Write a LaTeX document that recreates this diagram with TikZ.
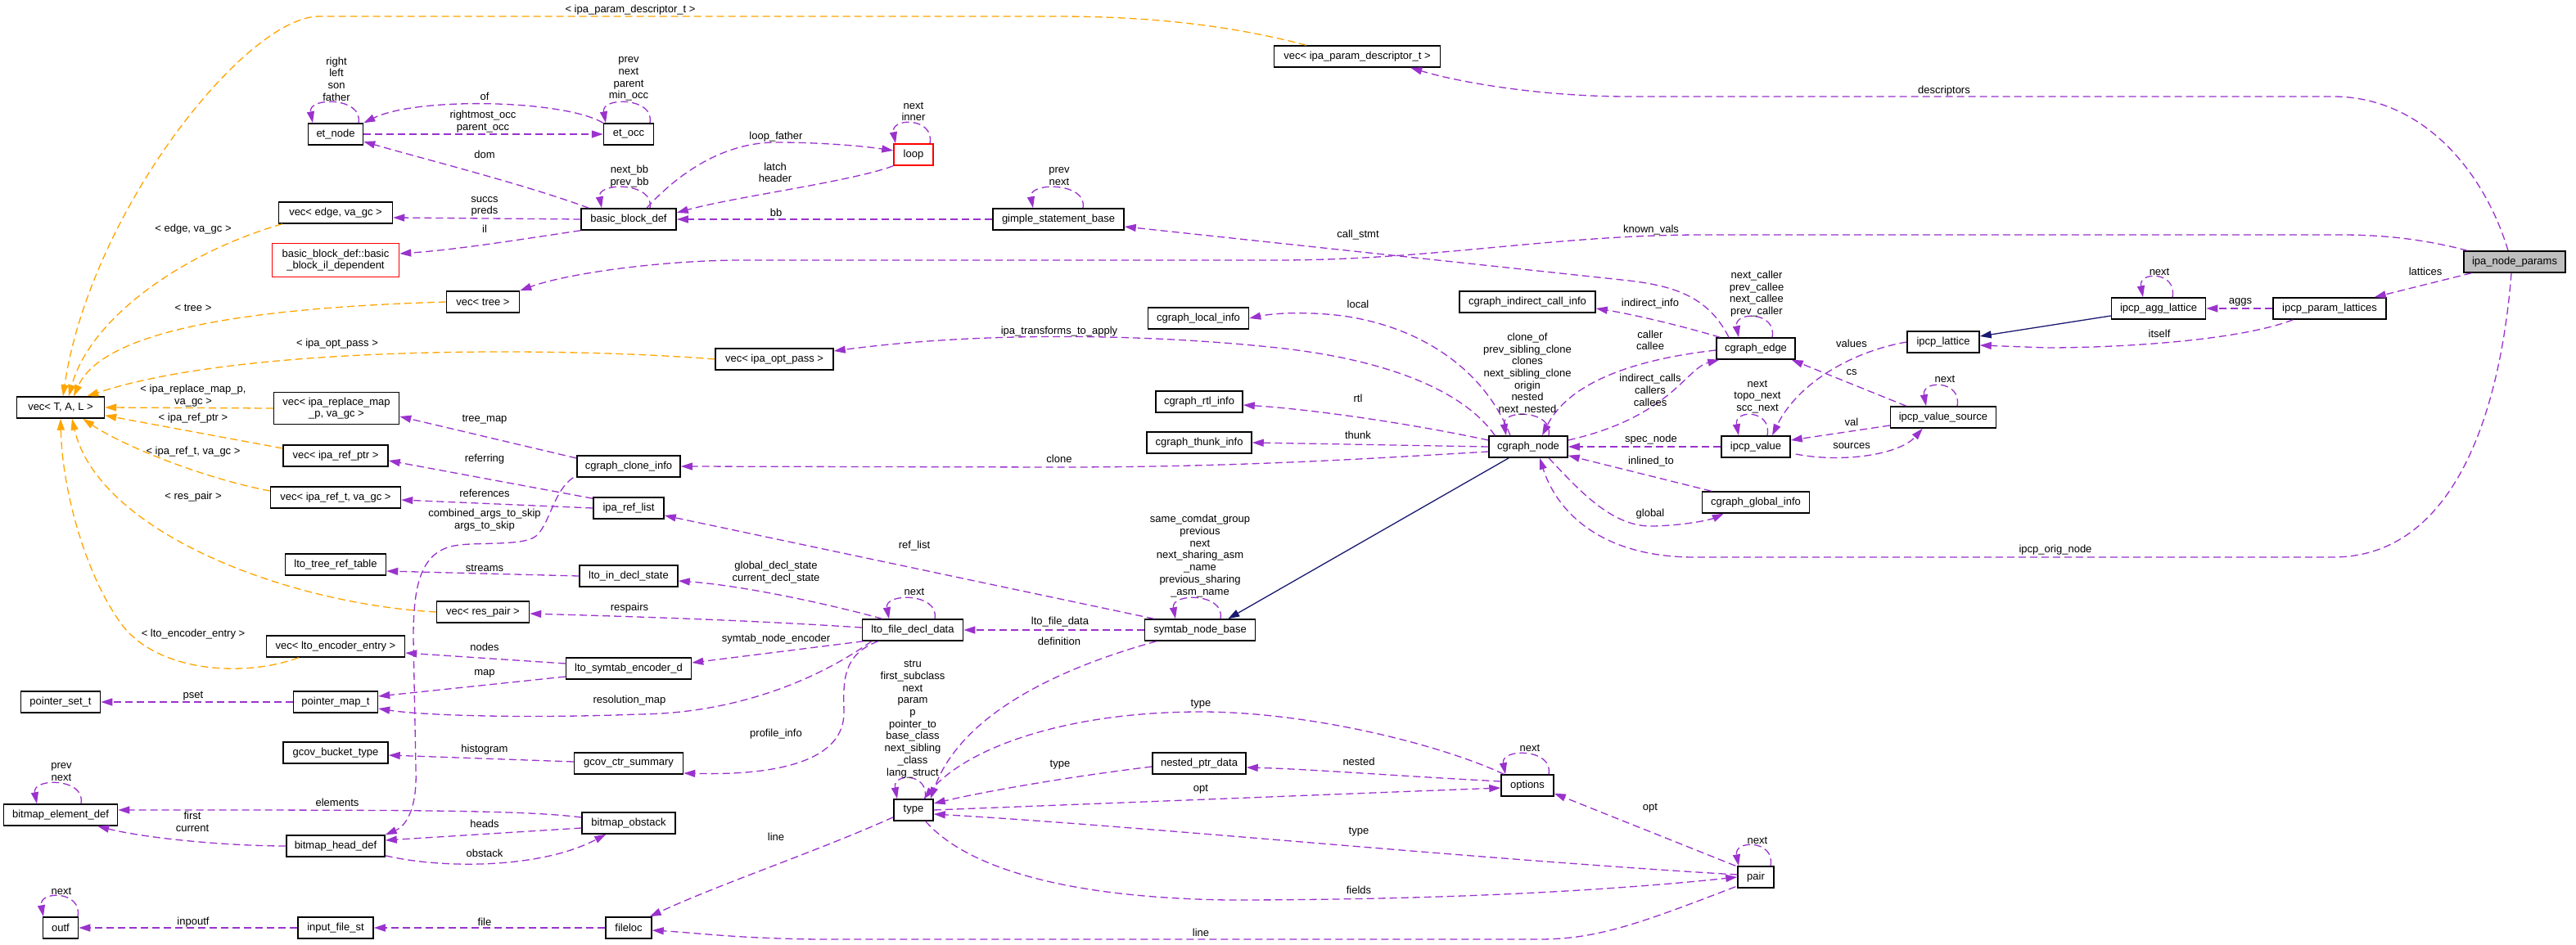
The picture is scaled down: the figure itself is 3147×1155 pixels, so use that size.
\documentclass[tikz,border=0pt]{standalone}
\usepackage{fontspec}
\setmainfont{Liberation Sans}
\usetikzlibrary{arrows.meta,calc}
\definecolor{pcol}{HTML}{9A32CD}
\definecolor{ocol}{HTML}{FFA500}
\definecolor{ncol}{HTML}{191970}
\definecolor{gcol}{HTML}{BFBFBF}
\newcommand{\gfont}{\fontsize{13}{14.7}\selectfont}
\newcommand{\myloop}[3]{\draw[pe] ($(#1.north)+(#2,0)$) .. controls +(6,-32) and +(-6,-32) .. ($(#1.north)+(#3,0)$);}
\begin{document}
\begin{tikzpicture}[x=1pt,y=-1pt,
  box/.style={draw=black, line width=1.5pt, fill=white, minimum height=26pt, inner xsep=4pt, inner ysep=2pt, font=\gfont, align=center},
  redbox/.style={box, draw=red},
  lbl/.style={font=\gfont, inner sep=0pt, align=center},
  dl/.style={line width=1.3pt, dash pattern=on 9pt off 5pt},
  pe/.style={draw=pcol, dl, -{Triangle[length=14pt,width=9pt]}},
  oe/.style={draw=ocol, dl, -{Triangle[length=14pt,width=9pt]}},
  ie/.style={draw=ncol, line width=1.3pt, -{Triangle[length=14pt,width=9pt]}}]
\useasboundingbox (0,0) rectangle (3147,1155);
\fill[white] (0,0) rectangle (3147,1155);

% ---------------- nodes ----------------
\node[box, minimum width=67pt] (etnode) at (410,164) {et\_node};
\node[box, minimum width=61pt] (etocc) at (768,164) {et\_occ};
\node[box, minimum width=139pt] (vecedge) at (410,260) {vec< edge, va\_gc >};
\node[redbox, minimum width=155pt, minimum height=41pt] (bbil) at (410,318) {basic\_block\_def::basic\\\_block\_il\_dependent};
\node[box, minimum width=116pt] (bbdef) at (768,268) {basic\_block\_def};
\node[redbox, minimum width=48pt] (loop) at (1116,189) {loop};
\node[box, minimum width=160pt] (gimple) at (1293,268) {gimple\_statement\_base};
\node[box, minimum width=203pt] (vecparam) at (1658,69) {vec< ipa\_param\_descriptor\_t >};
\node[box, minimum width=89pt] (vectree) at (590,369) {vec< tree >};
\node[box, minimum width=123pt] (localinfo) at (1464,389) {cgraph\_local\_info};
\node[box, minimum width=166pt] (indirect) at (1866,369) {cgraph\_indirect\_call\_info};
\node[box, fill=gcol, minimum width=124pt] (ipanode) at (3072,320) {ipa\_node\_params};
\node[box, minimum width=115pt] (agglat) at (2637,377) {ipcp\_agg\_lattice};
\node[box, minimum width=138pt] (paramlat) at (2846,377) {ipcp\_param\_lattices};
\node[box, minimum width=107pt] (vecTAL) at (74,498) {vec< T, A, L >};
\node[box, minimum width=153pt, minimum height=39pt] (vecrepl) at (411,499) {vec< ipa\_replace\_map\\\_p, va\_gc >};
\node[box, minimum width=128pt] (vecrefptr) at (410,557) {vec< ipa\_ref\_ptr >};
\node[box, minimum width=159pt] (vecreft) at (410,608) {vec< ipa\_ref\_t, va\_gc >};
\node[box, minimum width=126pt] (cloneinfo) at (768,570) {cgraph\_clone\_info};
\node[box, minimum width=86pt] (reflist) at (768,621) {ipa\_ref\_list};
\node[box, minimum width=123pt] (ltotree) at (410,690) {lto\_tree\_ref\_table};
\node[box, minimum width=120pt] (ltoin) at (768,704) {lto\_in\_decl\_state};
\node[box, minimum width=113pt] (vecres) at (590,748) {vec< res\_pair >};
\node[box, minimum width=144pt] (vecopt) at (946,439) {vec< ipa\_opt\_pass >};
\node[box, minimum width=106pt] (rtlinfo) at (1465,491) {cgraph\_rtl\_info};
\node[box, minimum width=128pt] (thunk) at (1465,541) {cgraph\_thunk\_info};
\node[box, minimum width=123pt] (ltofile) at (1115,770) {lto\_file\_decl\_data};
\node[box, minimum width=135pt] (symtab) at (1466,770) {symtab\_node\_base};
\node[box, minimum width=96pt] (cedge) at (2145,426) {cgraph\_edge};
\node[box, minimum width=96pt] (cnode) at (1867,546) {cgraph\_node};
\node[box, minimum width=84pt] (ipcpval) at (2145,546) {ipcp\_value};
\node[box, minimum width=131pt] (globalinfo) at (2145,614) {cgraph\_global\_info};
\node[box, minimum width=129pt] (valsrc) at (2374,510) {ipcp\_value\_source};
\node[box, minimum width=88pt] (lattice) at (2374,418) {ipcp\_lattice};
\node[box, minimum width=169pt] (vecenc) at (410,790) {vec< lto\_encoder\_entry >};
\node[box, minimum width=153pt] (symenc) at (768,817) {lto\_symtab\_encoder\_d};
\node[box, minimum width=97pt] (pset) at (74,858) {pointer\_set\_t};
\node[box, minimum width=103pt] (pmap) at (410,858) {pointer\_map\_t};
\node[box, minimum width=128pt] (gcovb) at (410,920) {gcov\_bucket\_type};
\node[box, minimum width=133pt] (gcovs) at (768,933) {gcov\_ctr\_summary};
\node[box, minimum width=139pt] (bed) at (74,996) {bitmap\_element\_def};
\node[box, minimum width=114pt] (bobs) at (768,1006) {bitmap\_obstack};
\node[box, minimum width=120pt] (bhd) at (410,1034) {bitmap\_head\_def};
\node[box, minimum width=43pt] (outf) at (74,1134) {outf};
\node[box, minimum width=92pt] (inputfile) at (410,1134) {input\_file\_st};
\node[box, minimum width=56pt] (fileloc) at (768,1134) {fileloc};
\node[box, minimum width=48pt] (type) at (1116,990) {type};
\node[box, minimum width=114pt] (nested) at (1465,933) {nested\_ptr\_data};
\node[box, minimum width=64pt] (options) at (1866,960) {options};
\node[box, minimum width=44pt] (pair) at (2145,1072) {pair};

% ---------------- edges: top left ----------------
\myloop{etnode}{28}{-28}
\myloop{etocc}{26}{-28}
\draw[pe] (etocc.north west) .. controls (690,122) and (510,118) .. (etnode.north east);
\draw[pe] (etnode.east) -- (etocc.west);
\draw[pe] ($(bbdef.north west)+(10,0)$) .. controls (640,225) and (520,195) .. ($(etnode.east)+(0,9)$);
\myloop{bbdef}{26}{-33}
\draw[pe] (bbdef.west) -- ($(vecedge.east)+(0,6)$);
\draw[pe] (bbdef.south west) .. controls (640,292) and (560,305) .. ($(bbil.east)+(0,-8)$);
\draw[pe] ($(bbdef.north)+(22,0)$) .. controls (835,205) and (890,174) .. (948,174) .. controls (1000,174) and (1050,178) .. ($(loop.west)+(0,-5)$);
\draw[pe] (loop.south west) .. controls (1040,222) and (900,240) .. ($(bbdef.east)+(0,-8)$);
\myloop{loop}{20}{-22}
\draw[pe] (gimple.west) -- (bbdef.east);
\myloop{gimple}{30}{-31}
\draw[pe] ($(cedge.north)+(-33,0)$) .. controls (2088,365) and (2050,350) .. (1990,343) -- ($(gimple.east)+(0,9)$);
\draw[pe] ($(ipanode.north west)+(5,0)$) .. controls (2960,292) and (2910,287) .. (2860,287) -- (2080,287) .. controls (1900,287) and (1750,318) .. (1560,318) -- (900,318) .. controls (800,319) and (690,335) .. (vectree.north east);
\draw[pe] ($(ipanode.north)+(-8,0)$) .. controls (3035,210) and (2960,118) .. (2850,118) -- (1990,118) .. controls (1880,118) and (1780,100) .. ($(vecparam.south east)+(-37,0)$);

% ---------------- template instances ----------------
\draw[oe] ($(vecparam.north west)+(40,0)$) .. controls (1500,30) and (1400,20) .. (1290,20) -- (390,20) .. controls (300,20) and (110,260) .. ($(vecTAL.north)+(3,0)$);
\draw[oe] ($(vecedge.south west)+(5,0)$) .. controls (220,310) and (110,390) .. ($(vecTAL.north)+(10,0)$);
\draw[oe] (vectree.west) .. controls (350,375) and (130,395) .. ($(vecTAL.north)+(16,0)$);
\draw[oe] (vecopt.west) .. controls (700,425) and (300,420) .. ($(vecTAL.north east)+(-22,0)$);
\draw[oe] (vecrepl.west) -- (vecTAL.east);
\draw[oe] ($(vecrefptr.west)+(0,-9)$) -- ($(vecTAL.south east)+(0,-4)$);
\draw[oe] ($(vecreft.west)+(0,-8)$) .. controls (250,585) and (150,545) .. ($(vecTAL.south east)+(-27,0)$);
\draw[oe] (vecres.west) .. controls (350,738) and (120,650) .. ($(vecTAL.south)+(14,0)$);
\draw[oe] ($(vecenc.south west)+(40,0)$) .. controls (300,828) and (195,822) .. (150,765) .. controls (105,705) and (76,600) .. (vecTAL.south);

% ---------------- cgraph ----------------
\myloop{cnode}{25}{-27}
\draw[pe] ($(cnode.north west)+(8,0)$) .. controls (1790,480) and (1700,440) .. (1560,425) .. controls (1400,408) and (1200,405) .. ($(vecopt.east)+(0,-10)$);
\draw[pe] ($(cnode.north)+(-22,0)$) .. controls (1815,455) and (1740,400) .. (1640,386) .. controls (1600,381) and (1560,382) .. (localinfo.east);
\draw[pe] ($(cnode.west)+(0,-8)$) .. controls (1720,517) and (1600,500) .. ($(rtlinfo.east)+(0,4)$);
\draw[pe] (cnode.west) -- (thunk.east);
\draw[pe] ($(cnode.west)+(0,6)$) .. controls (1650,562) and (1500,571) .. (1290,571) -- (cloneinfo.east);
\draw[pe] ($(cedge.west)+(0,2)$) .. controls (1990,440) and (1915,470) .. ($(cnode.north)+(17,0)$);
\draw[pe] ($(cnode.east)+(0,-8)$) .. controls (2040,510) and (2060,450) .. ($(cedge.south west)+(4,0)$);
\myloop{cedge}{20}{-21}
\draw[pe] ($(cedge.north west)+(5,0)$) .. controls (2060,400) and (2000,385) .. ($(indirect.east)+(0,8)$);
\draw[pe] (ipcpval.west) -- (cnode.east);
\myloop{ipcpval}{14}{-21}
\draw[pe] (lattice.west) .. controls (2260,430) and (2195,470) .. ($(ipcpval.north)+(20,0)$);
\draw[pe] ($(valsrc.north west)+(20,0)$) -- ($(cedge.south east)+(-5,0)$);
\draw[pe] ($(valsrc.west)+(0,10)$) -- ($(ipcpval.east)+(0,-8)$);
\draw[pe] ($(ipcpval.east)+(6,9)$) .. controls (2250,566) and (2320,556) .. ($(valsrc.south west)+(40,0)$);
\myloop{valsrc}{17}{-21}
\draw[pe] ($(globalinfo.north west)+(12,0)$) -- ($(cnode.south east)+(0,-3)$);
\draw[pe] ($(cnode.south)+(25,0)$) .. controls (1930,600) and (1970,645) .. (2020,643) .. controls (2060,642) and (2090,635) .. ($(globalinfo.south west)+(27,0)$);
\draw[pe] ($(ipanode.south)+(-4,0)$) .. controls (3055,500) and (3000,681) .. (2850,681) -- (2070,681) .. controls (1950,681) and (1900,620) .. ($(cnode.south)+(14,0)$);
\draw[ie] ($(cnode.south west)+(25,0)$) -- ($(symtab.north east)+(-34,0)$);
\draw[pe] ($(ipanode.south west)+(10,0)$) -- ($(paramlat.north east)+(-15,0)$);
\draw[pe] (paramlat.west) -- (agglat.east);
\myloop{agglat}{17}{-19}
\draw[pe] ($(paramlat.south west)+(25,0)$) .. controls (2740,415) and (2600,425) .. (2500,425) -- ($(lattice.east)+(0,4)$);
\draw[ie] ($(agglat.west)+(0,9)$) -- ($(lattice.east)+(0,-7)$);

% ---------------- middle left ----------------
\draw[pe] ($(cloneinfo.west)+(0,-10)$) -- ($(vecrepl.east)+(0,10)$);
\draw[pe] ($(reflist.north west)+(0,2)$) -- ($(vecrefptr.east)+(0,6)$);
\draw[pe] (reflist.west) -- ($(vecreft.east)+(0,3)$);
\draw[pe] ($(cloneinfo.south west)+(-4,0)$) .. controls (676,600) and (672,640) .. (655,655) .. controls (640,668) and (580,662) .. (555,667) .. controls (512,675) and (505,720) .. (505,780) -- (508,940) .. controls (510,990) and (495,1010) .. (bhd.north east);
\draw[pe] (ltoin.west) -- ($(ltotree.east)+(0,8)$);
\draw[pe] ($(ltofile.north west)+(25,0)$) .. controls (1000,735) and (900,715) .. ($(ltoin.east)+(0,6)$);
\myloop{ltofile}{27}{-29}
\draw[pe] ($(ltofile.west)+(0,-3)$) .. controls (900,757) and (750,753) .. ($(vecres.east)+(0,2)$);
\draw[pe] ($(ltofile.south west)+(2,0)$) -- ($(symenc.east)+(0,-7)$);
\draw[pe] ($(ltofile.south west)+(12,0)$) .. controls (1000,830) and (900,872) .. (780,873) .. controls (650,878) and (520,875) .. ($(pmap.east)+(0,8)$);
\draw[pe] ($(ltofile.south west)+(20,0)$) .. controls (1030,800) and (1030,830) .. (1031,870) .. controls (1032,930) and (950,948) .. ($(gcovs.east)+(0,12)$);
\draw[pe] (symtab.west) -- (ltofile.east);
\draw[pe] ($(symtab.north west)+(12,0)$) -- ($(reflist.east)+(0,9)$);
\myloop{symtab}{25}{-30}
\draw[pe] ($(symtab.south west)+(15,0)$) .. controls (1300,815) and (1175,870) .. ($(type.north east)+(-4,0)$);

% ---------------- type ----------------
\myloop{type}{14}{-20}
\draw[pe] ($(nested.west)+(0,4)$) .. controls (1300,950) and (1200,968) .. ($(type.east)+(0,-8)$);
\draw[pe] ($(options.north west)+(4,0)$) .. controls (1760,910) and (1600,870) .. (1467,870) .. controls (1300,870) and (1180,915) .. ($(type.north east)+(-12,0)$);
\draw[pe] (type.east) .. controls (1400,980) and (1700,968) .. ($(options.west)+(0,3)$);
\draw[pe] ($(options.west)+(0,-5)$) .. controls (1700,948) and (1600,940) .. ($(nested.east)+(0,5)$);
\myloop{options}{26}{-27}
\draw[pe] ($(pair.north west)+(-2,0)$) -- ($(options.south east)+(0,-4)$);
\myloop{pair}{18}{-21}
\draw[pe] ($(pair.west)+(0,-3)$) .. controls (1800,1050) and (1400,1010) .. ($(type.east)+(0,5)$);
\draw[pe] ($(type.south east)+(-10,0)$) .. controls (1180,1060) and (1300,1097) .. (1500,1100) .. controls (1800,1100) and (2000,1085) .. (pair.west);
\draw[pe] ($(pair.south west)+(-2,-2)$) .. controls (2000,1130) and (1950,1148) .. (1880,1148) -- (1000,1148) .. controls (900,1147) and (850,1140) .. ($(fileloc.east)+(0,3)$);
\draw[pe] ($(type.south west)+(0,-5)$) .. controls (1000,1040) and (880,1080) .. ($(fileloc.north east)+(-3,0)$);

% ---------------- bottom left ----------------
\draw[pe] ($(symenc.west)+(0,-6)$) -- ($(vecenc.east)+(0,8)$);
\draw[pe] ($(symenc.west)+(0,10)$) -- ($(pmap.east)+(0,-7)$);
\draw[pe] (pmap.west) -- (pset.east);
\draw[pe] ($(gcovs.west)+(0,-2)$) -- ($(gcovb.east)+(0,3)$);
\myloop{bed}{25}{-29}
\draw[pe] ($(bobs.west)+(0,-7)$) .. controls (640,990) and (500,990) .. ($(bed.east)+(0,-6)$);
\draw[pe] (bhd.west) .. controls (280,1034) and (180,1025) .. ($(bed.south east)+(-25,0)$);
\draw[pe] ($(bobs.west)+(0,6)$) -- ($(bhd.east)+(0,-7)$);
\draw[pe] ($(bhd.south east)+(0,-2)$) .. controls (540,1062) and (660,1062) .. ($(bobs.south west)+(30,0)$);
\myloop{outf}{21}{-21}
\draw[pe] (inputfile.west) -- (outf.east);
\draw[pe] (fileloc.west) -- (inputfile.east);

% ---------------- labels ----------------
\node[lbl] at (770,12) {< ipa\_param\_descriptor\_t >};
\node[lbl] at (411,96.5) {right\\left\\son\\father};
\node[lbl] at (768,96.5) {prev\\next\\parent\\min\_occ};
\node[lbl] at (592,118) {of};
\node[lbl] at (590,148.5) {rightmost\_occ\\parent\_occ};
\node[lbl] at (592,189) {dom};
\node[lbl] at (769,215.5) {next\_bb\\prev\_bb};
\node[lbl] at (592,252.5) {succs\\preds};
\node[lbl] at (592,280) {il};
\node[lbl] at (236,280) {< edge, va\_gc >};
\node[lbl] at (236,376) {< tree >};
\node[lbl] at (1116,136.5) {next\\inner};
\node[lbl] at (948,167) {loop\_father};
\node[lbl] at (947,211) {latch\\header};
\node[lbl] at (948,260) {bb};
\node[lbl] at (1294,215.5) {prev\\next};
\node[lbl] at (2375,111) {descriptors};
\node[lbl] at (1659,287) {call\_stmt};
\node[lbl] at (2017,281) {known\_vals};
\node[lbl] at (2016,371) {indirect\_info};
\node[lbl] at (1659,372) {local};
\node[lbl] at (2146,359) {next\_caller\\prev\_callee\\next\_callee\\prev\_caller};
\node[lbl] at (2638,332) {next};
\node[lbl] at (2737,369) {aggs};
\node[lbl] at (2963,332) {lattices};
\node[lbl] at (236,483.5) {< ipa\_replace\_map\_p,\\va\_gc >};
\node[lbl] at (412,420) {< ipa\_opt\_pass >};
\node[lbl] at (236,511) {< ipa\_ref\_ptr >};
\node[lbl] at (236,552) {< ipa\_ref\_t, va\_gc >};
\node[lbl] at (236,607) {< res\_pair >};
\node[lbl] at (592,513) {tree\_map};
\node[lbl] at (592,561) {referring};
\node[lbl] at (592,603) {references};
\node[lbl] at (592,635.5) {combined\_args\_to\_skip\\args\_to\_skip};
\node[lbl] at (592,694) {streams};
\node[lbl] at (769,743) {respairs};
\node[lbl] at (236,775) {< lto\_encoder\_entry >};
\node[lbl] at (1294,405) {ipa\_transforms\_to\_apply};
\node[lbl] at (1294,561) {clone};
\node[lbl] at (1117,667) {ref\_list};
\node[lbl] at (948,699.5) {global\_decl\_state\\current\_decl\_state};
\node[lbl] at (1117,723) {next};
\node[lbl] at (1295,760) {lto\_file\_data};
\node[lbl] at (1466,679.5) {same\_comdat\_group\\previous\\next\\next\_sharing\_asm\\\_name\\previous\_sharing\\\_asm\_name};
\node[lbl] at (1866,457) {clone\_of\\prev\_sibling\_clone\\clones\\next\_sibling\_clone\\origin\\nested\\next\_nested};
\node[lbl] at (2016,416) {caller\\callee};
\node[lbl] at (2016,477) {indirect\_calls\\callers\\callees};
\node[lbl] at (1659,487) {rtl};
\node[lbl] at (1659,532) {thunk};
\node[lbl] at (2147,485) {next\\topo\_next\\scc\_next};
\node[lbl] at (2017,537) {spec\_node};
\node[lbl] at (2017,564) {inlined\_to};
\node[lbl] at (2016,628) {global};
\node[lbl] at (2262,420) {values};
\node[lbl] at (2262,455) {cs};
\node[lbl] at (2262,516) {val};
\node[lbl] at (2262,545) {sources};
\node[lbl] at (2511,672) {ipcp\_orig\_node};
\node[lbl] at (2638,408) {itself};
\node[lbl] at (2376,463) {next};
\node[lbl] at (592,791) {nodes};
\node[lbl] at (592,823) {map};
\node[lbl] at (236,851) {pset};
\node[lbl] at (769,856) {resolution\_map};
\node[lbl] at (592,916) {histogram};
\node[lbl] at (75,943.5) {prev\\next};
\node[lbl] at (412,981) {elements};
\node[lbl] at (235,1004.5) {first\\current};
\node[lbl] at (592,1007) {heads};
\node[lbl] at (592,1043) {obstack};
\node[lbl] at (75,1089) {next};
\node[lbl] at (236,1127) {inpoutf};
\node[lbl] at (592,1127) {file};
\node[lbl] at (948,781) {symtab\_node\_encoder};
\node[lbl] at (1294,784) {definition};
\node[lbl] at (948,897) {profile\_info};
\node[lbl] at (1115,879) {stru\\first\_subclass\\next\\param\\p\\pointer\_to\\base\_class\\next\_sibling\\\_class\\lang\_struct};
\node[lbl] at (1295,935) {type};
\node[lbl] at (1467,861) {type};
\node[lbl] at (1467,965) {opt};
\node[lbl] at (948,1023) {line};
\node[lbl] at (1467,1140) {line};
\node[lbl] at (1869,914) {next};
\node[lbl] at (1660,931) {nested};
\node[lbl] at (2016,988) {opt};
\node[lbl] at (2147,1027) {next};
\node[lbl] at (1660,1017) {type};
\node[lbl] at (1660,1088) {fields};
\end{tikzpicture}
\end{document}
